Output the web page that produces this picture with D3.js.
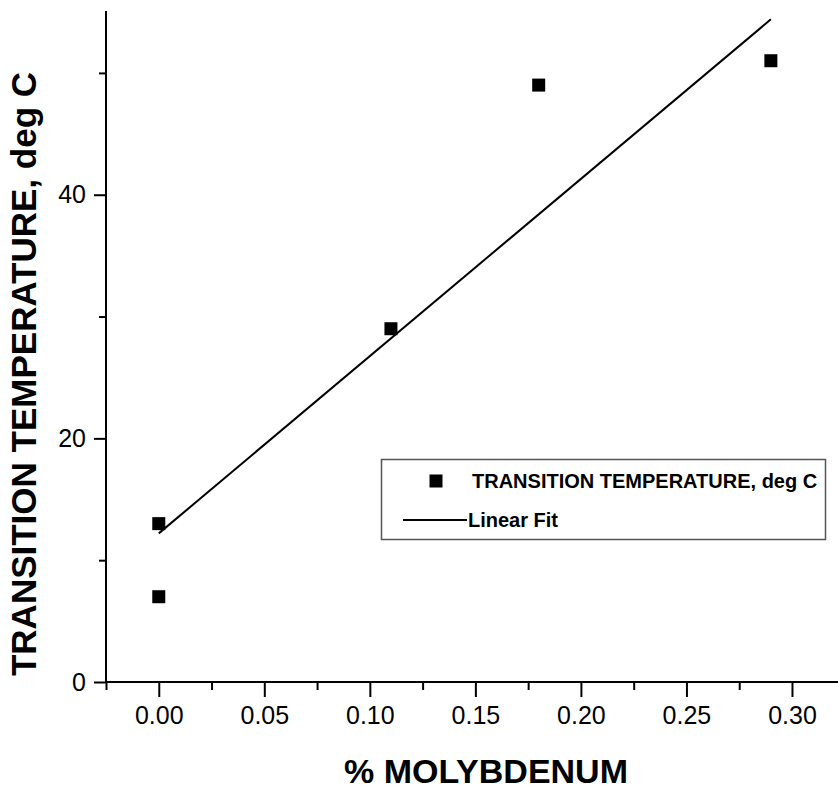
<!DOCTYPE html>
<meta charset="utf-8">
<style>
body { margin: 0; background: #fff; }
svg { display: block; font-family: Arial, "Liberation Sans", sans-serif; }
.axis path, .axis line { stroke: #000; stroke-width: 2px; }
.axis text { font-size: 25px; fill: #000; }
.title { font-weight: bold; font-size: 34px; }
.ytitle { font-size: 35px; }
.legend text { font-weight: bold; font-size: 20px; }
</style>
<body>
<svg width="838" height="789"></svg>
<script src="https://d3js.org/d3.v7.min.js"></script>
<script>
// data
var molybdenum = [0.00, 0.00, 0.11, 0.18, 0.29];
var transTemp  = [13, 7, 29, 49, 51];
// linear fit end points
var fitX = [0.00, 0.29];
var fitY = [12.2, 54.4];

var xMajor = [0, 0.05, 0.10, 0.15, 0.20, 0.25, 0.30];
var xMinor = [-0.025, 0.025, 0.075, 0.125, 0.175, 0.225, 0.275, 0.325];
var yMajor = [0, 20, 40];
var yMinor = [10, 30, 50];

var svg = d3.select("svg");

var x = d3.scaleLinear().domain([-0.025, 0.325]).range([106, 844.75]);
var y = d3.scaleLinear().domain([0, 55]).range([682, 12]);

// minor ticks first
svg.append("g")
    .attr("class", "axis")
    .attr("transform", "translate(0,682)")
    .call(d3.axisBottom(x).tickValues(xMinor).tickSize(8).tickFormat(""))
    .select(".domain").remove();
svg.append("g")
    .attr("class", "axis")
    .attr("transform", "translate(106,0)")
    .call(d3.axisLeft(y).tickValues(yMinor).tickSize(7).tickFormat(""))
    .select(".domain").remove();

// major ticks and axis lines
var gx = svg.append("g")
    .attr("class", "axis")
    .attr("transform", "translate(0,682)")
    .call(d3.axisBottom(x).tickValues(xMajor).tickSize(15).tickPadding(9).tickSizeOuter(0).tickFormat(d3.format(".2f")));
gx.select(".domain").attr("d", "M106,0H838");

var gy = svg.append("g")
    .attr("class", "axis")
    .attr("transform", "translate(106,0)")
    .call(d3.axisLeft(y).tickValues(yMajor).tickSize(12).tickPadding(8).tickSizeOuter(0).tickFormat(d3.format("d")));
gy.select(".domain").attr("d", "M0,682V11");

// linear fit
svg.append("line")
    .attr("x1", x(fitX[0])).attr("y1", y(fitY[0]))
    .attr("x2", x(fitX[1])).attr("y2", y(fitY[1]))
    .attr("stroke", "#000")
    .attr("stroke-width", 2);

// points
svg.selectAll(".pt")
    .data(molybdenum)
    .enter().append("rect")
      .attr("class", "pt")
      .attr("x", function(d) { return x(d) - 6.5; })
      .attr("y", function(d, i) { return y(transTemp[i]) - 6.5; })
      .attr("width", 13)
      .attr("height", 13)
      .attr("fill", "#000");

// titles
svg.append("text")
    .attr("class", "title")
    .attr("x", 486)
    .attr("y", 783)
    .attr("text-anchor", "middle")
    .text("% MOLYBDENUM");

svg.append("text")
    .attr("class", "title ytitle")
    .attr("transform", "translate(36,374) rotate(-90)")
    .attr("text-anchor", "middle")
    .text("TRANSITION TEMPERATURE, deg C");

// legend
var lg = svg.append("g").attr("class", "legend");
lg.append("rect")
    .attr("x", 381.5).attr("y", 459.5)
    .attr("width", 444).attr("height", 80)
    .attr("fill", "#fff")
    .attr("stroke", "#555")
    .attr("stroke-width", 1.5);
lg.append("rect")
    .attr("x", 429.5).attr("y", 474.5)
    .attr("width", 13).attr("height", 13)
    .attr("fill", "#000");
lg.append("text")
    .attr("x", 472).attr("y", 488)
    .text("TRANSITION TEMPERATURE, deg C");
lg.append("line")
    .attr("x1", 403).attr("x2", 467)
    .attr("y1", 520).attr("y2", 520)
    .attr("stroke", "#000").attr("stroke-width", 2);
lg.append("text")
    .attr("x", 468).attr("y", 527)
    .text("Linear Fit");
</script>
</body>
